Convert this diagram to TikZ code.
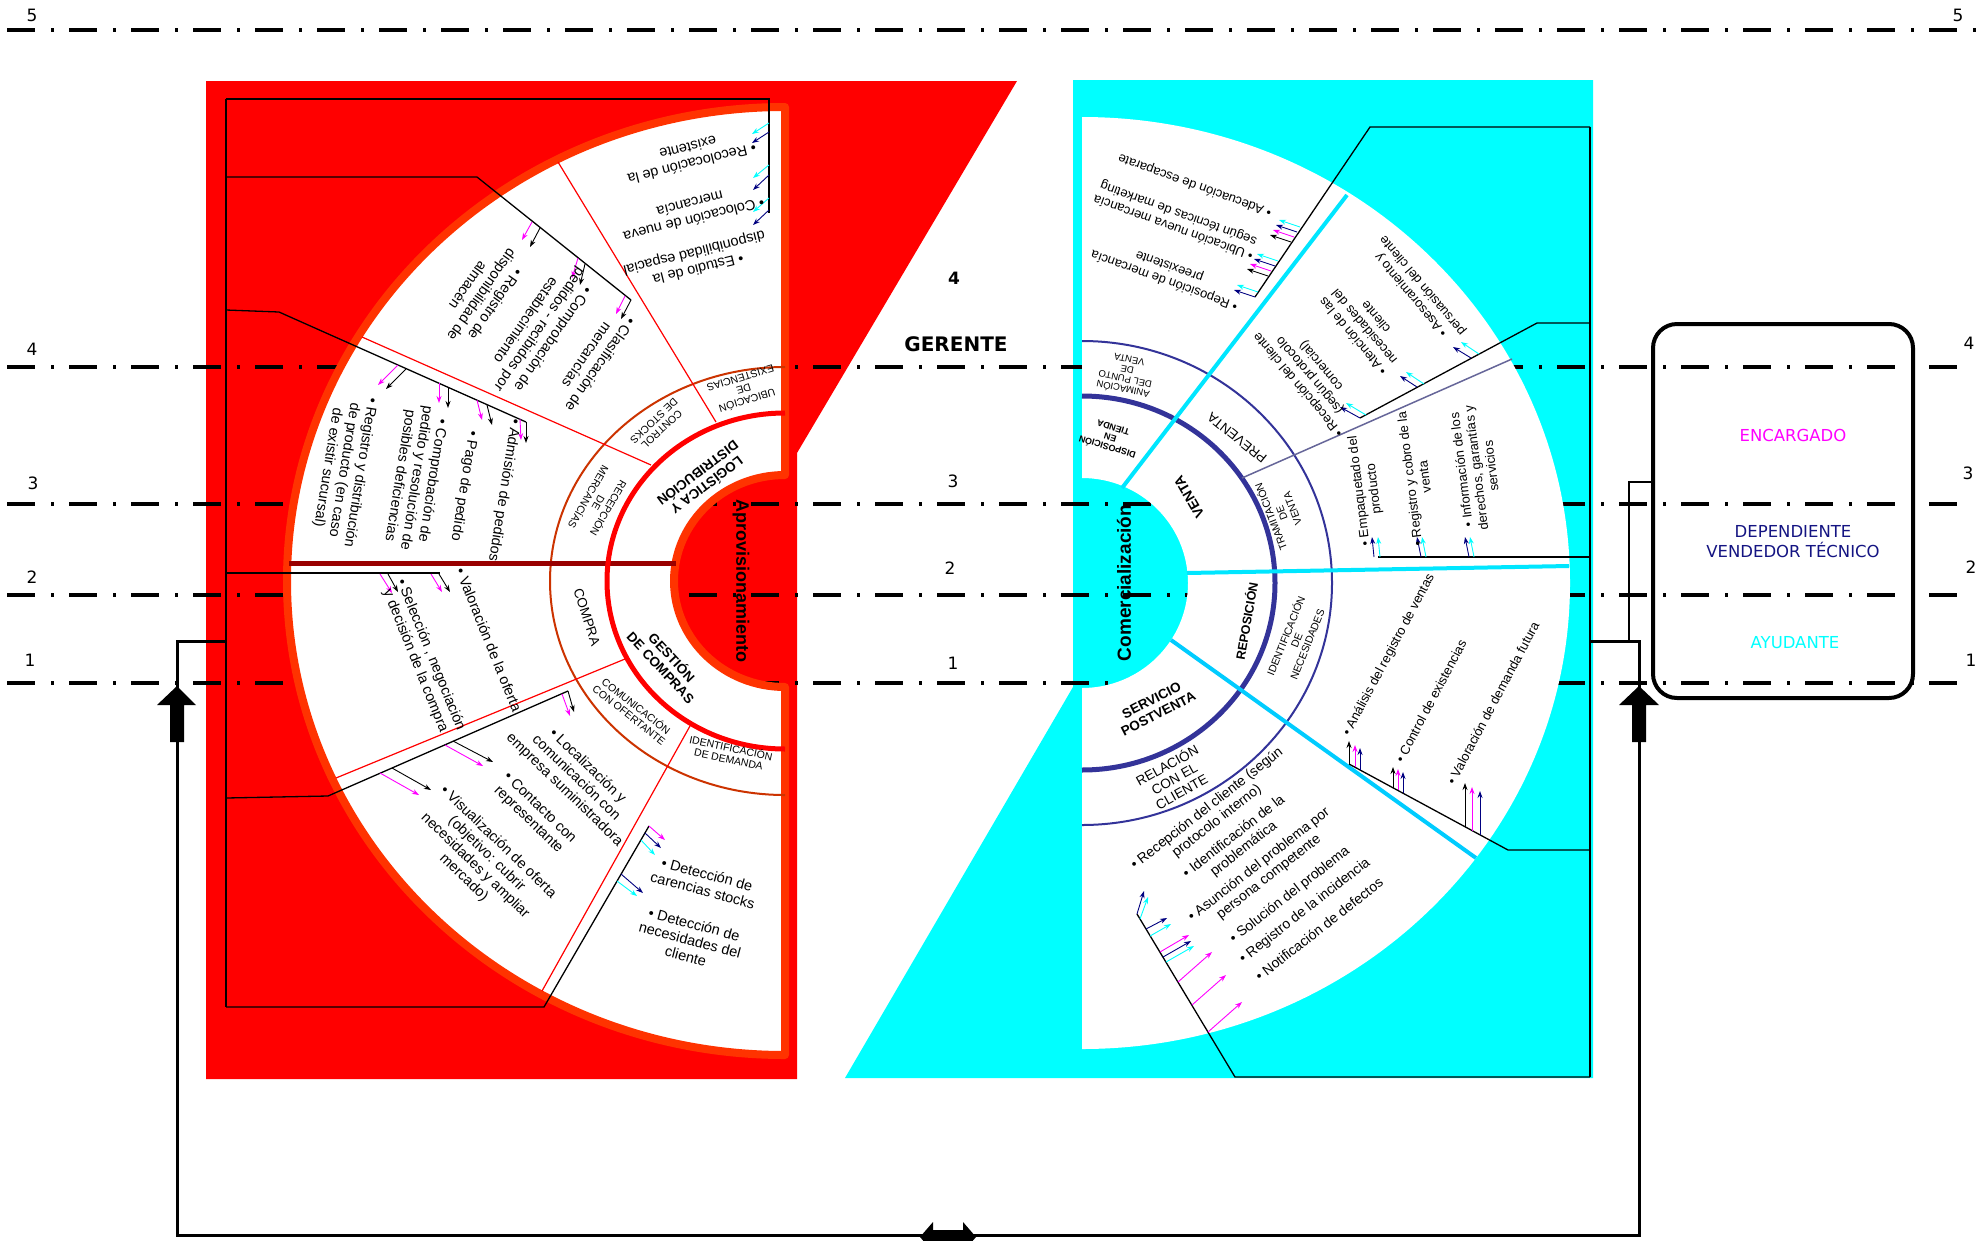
\documentclass[tikz,border=0pt]{standalone}
\usepackage{fontspec}
\setmainfont{Liberation Sans}
\newfontfamily\dvs{DejaVu Sans}
\usetikzlibrary{arrows.meta}
\definecolor{fanred}{RGB}{255,0,0}
\definecolor{orng}{RGB}{255,51,0}
\definecolor{brn}{RGB}{204,51,0}
\definecolor{dkred}{RGB}{153,0,0}
\definecolor{cyn}{RGB}{0,255,255}
\definecolor{nvy}{RGB}{0,0,128}
\definecolor{mag}{RGB}{255,0,255}
\definecolor{ringblue}{RGB}{51,51,153}
\definecolor{purp}{RGB}{102,102,153}
\definecolor{sky}{RGB}{0,204,255}
\definecolor{cyl}{RGB}{0,230,255}
\definecolor{boxnavy}{RGB}{20,20,130}
\newcommand\arw[3]{\draw[arwst,#1] (#2) -- (#3);}
\begin{document}
\begin{tikzpicture}[x=1pt,y=-1pt,
 lvl/.style={line width=4.5pt, dash pattern=on 28pt off 16pt on 3pt off 15pt},
 frm/.style={line width=1.3pt},
 arwst/.style={line width=0.9pt, -{Stealth[length=7pt,width=5pt]}},
 rt/.style={font=\fontsize{14.5}{16.5}\selectfont, align=center, inner sep=0pt},
 tx/.style={font=\fontsize{13}{15}\selectfont, align=center, inner sep=0pt},
 tb/.style={font=\fontsize{14}{16}\selectfont, align=center, inner sep=0pt},
 sm/.style={font=\fontsize{10.5}{11.5}\selectfont, align=center, inner sep=0pt},
 md/.style={font=\fontsize{13.5}{15}\selectfont, align=center, inner sep=0pt},
 bd/.style={font=\bfseries\fontsize{13.5}{15}\selectfont, align=center, inner sep=0pt},
 num/.style={font=\dvs\fontsize{17}{17}\selectfont, inner sep=0pt},
 boxt/.style={font=\dvs\fontsize{16.5}{20}\selectfont, align=center, inner sep=0pt},
]
\useasboundingbox (0,0) rectangle (1987,1240);
\fill[white] (0,0) rectangle (1987,1240);
% panels
\fill[fanred] (206,81) -- (1017,81) -- (797,453) -- (797,1079) -- (206,1079) -- cycle;
\fill[cyn] (1073,80) -- (1593,80) -- (1593,1078) -- (845,1078) -- (1073,687) -- cycle;
% level lines
\foreach \yy in {367,504,595,683} \draw[lvl] (7,\yy) -- (1972,\yy);
\draw[lvl] (7,30) -- (1982,30);
% red fan
\fill[white] (785,107) arc[start angle=90,end angle=270,x radius=498pt,y radius=474pt] -- (785,687) arc[start angle=270,end angle=90,x radius=111pt,y radius=106pt] -- cycle;
\draw[orng,line width=8pt,line join=round] (785,107) arc[start angle=90,end angle=270,x radius=498pt,y radius=474pt] -- (785,687) arc[start angle=270,end angle=90,x radius=111pt,y radius=106pt] -- cycle;
% cyan fan
\fill[white] (1082,117) arc[start angle=90,end angle=-90,x radius=488pt,y radius=466pt] -- (1082,688) arc[start angle=-90,end angle=90,x radius=106pt,y radius=105pt] -- cycle;
% red rings and dividers
\draw[brn,line width=2pt] (785,367) arc[start angle=90,end angle=270,x radius=235pt,y radius=214pt];
\draw[dkred,line width=5pt] (289,563) -- (676,563);
\draw[fanred,line width=1.2pt] (362,337) -- (651,465);
\draw[fanred,line width=1.2pt] (558,162) -- (716,422);
\draw[fanred,line width=1.2pt] (336,778) -- (625,659);
\draw[fanred,line width=1.2pt] (690,726) -- (542,991);
\draw[fanred,line width=5pt] (785,413) arc[start angle=90,end angle=270,x radius=178pt,y radius=168pt];
% cyan rings and dividers
\draw[ringblue,line width=2pt] (1082,341) arc[start angle=90,end angle=-90,x radius=250pt,y radius=242pt];
\draw[ringblue,line width=5pt] (1082,396) arc[start angle=90,end angle=-90,x radius=193pt,y radius=187pt];
\draw[purp,line width=1.5pt] (1242,478) -- (1512,359);
\draw[cyl,line width=4pt] (1122,488) -- (1347,195);
\draw[cyl,line width=4pt] (1187,573) -- (1569,566);
\draw[sky,line width=4pt] (1171,640) -- (1476,858);
% red frame
\draw[frm] (226,99) -- (226,1007);
\draw[frm] (226,99) -- (769,99) -- (769,213);
\draw[frm] (226,177) -- (477,177) -- (631,300);
\draw[frm] (226,310) -- (279,312) -- (526,422);
\draw[frm] (226,573) -- (440,573);
\draw[frm] (226,798) -- (328,796) -- (568,691);
\draw[frm] (226,1007) -- (544,1007) -- (649,826);
% red arrows
\arw{cyn}{769,123}{752,134}
\arw{nvy}{769,132}{752,143}
\arw{cyn}{769,165}{753,178}
\arw{nvy}{769,175}{753,190}
\arw{cyn}{769,198}{753,212}
\arw{nvy}{769,210}{753,225}
\arw{mag}{532,222}{522,240}
\arw{black}{540,228}{530,247}
\arw{mag}{578,258}{572,278}
\arw{black}{585,264}{580,285}
\arw{mag}{625,296}{616,314}
\arw{black}{631,300}{621,319}
\arw{mag}{398,365}{378,385}
\arw{black}{406,369}{386,389}
\arw{mag}{439,383}{439,403}
\arw{black}{448,387}{448,408}
\arw{mag}{477,400}{482,420}
\arw{black}{487,405}{492,425}
\arw{mag}{520,419}{521,440}
\arw{black}{526,422}{526,443}
\arw{mag}{380,574}{392,593}
\arw{black}{388,574}{398,592}
\arw{mag}{431,574}{442,592}
\arw{black}{439,574}{450,592}
\arw{mag}{562,694}{570,716}
\arw{black}{568,691}{574,712}
\arw{mag}{445,745}{483,766}
\arw{black}{453,741}{493,762}
\arw{mag}{380,773}{419,795}
\arw{black}{392,768}{431,790}
\arw{mag}{649,826}{665,840}
\arw{nvy}{645,833}{661,848}
\arw{cyn}{641,840}{655,855}
\arw{nvy}{621,874}{643,893}
\arw{cyn}{617,881}{637,896}
% cyan frame
\draw[frm] (1590,127) -- (1590,1077);
\draw[frm] (1590,127) -- (1370,127) -- (1255,297);
\draw[frm] (1590,323) -- (1537,323) -- (1360,418);
\draw[frm] (1590,557) -- (1378,557);
\draw[frm] (1590,850) -- (1508,850) -- (1349,764);
\draw[frm] (1590,1077) -- (1235,1077) -- (1137,914);
% cyan arrows
\arw{nvy}{1255,297}{1234,290}
\arw{cyn}{1258,292}{1237,285}
\arw{black}{1268,276}{1247,269}
\arw{mag}{1271,271}{1250,264}
\arw{nvy}{1275,266}{1254,259}
\arw{cyn}{1278,261}{1257,254}
\arw{black}{1291,242}{1270,235}
\arw{mag}{1294,237}{1273,230}
\arw{nvy}{1297,232}{1276,225}
\arw{cyn}{1300,227}{1279,220}
\arw{nvy}{1360,418}{1340,407}
\arw{cyn}{1366,415}{1346,403}
\arw{nvy}{1417,387}{1400,376}
\arw{cyn}{1424,384}{1406,372}
\arw{nvy}{1471,358}{1453,347}
\arw{cyn}{1479,354}{1461,342}
\arw{nvy}{1374,557}{1372,537}
\arw{cyn}{1380,557}{1378,537}
\arw{nvy}{1421,557}{1417,537}
\arw{cyn}{1426,557}{1422,537}
\arw{nvy}{1469,557}{1465,537}
\arw{cyn}{1474,557}{1470,537}
\arw{black}{1349,764}{1349,741}
\arw{mag}{1355,767}{1355,745}
\arw{nvy}{1360,770}{1360,748}
\arw{black}{1393,788}{1393,767}
\arw{mag}{1398,790}{1398,769}
\arw{nvy}{1403,793}{1403,772}
\arw{black}{1465,827}{1465,783}
\arw{mag}{1472,831}{1472,787}
\arw{nvy}{1480,835}{1480,791}
\arw{nvy}{1137,914}{1144,891}
\arw{cyn}{1140,919}{1148,897}
\arw{nvy}{1146,929}{1167,918}
\arw{cyn}{1150,936}{1171,924}
\arw{mag}{1160,952}{1189,935}
\arw{nvy}{1163,957}{1191,941}
\arw{cyn}{1166,962}{1194,946}
\arw{mag}{1178,982}{1212,952}
\arw{mag}{1192,1005}{1226,975}
\arw{mag}{1208,1032}{1242,1002}
% red fan texts
\node[rt,rotate=194] (a1) at (690,156) {• Recolocación de la\\existente};
\node[rt,rotate=194] (a2) at (692,212) {• Colocación de nueva\\mercancía};
\node[rt,rotate=194] (a3) at (696,260) {• Estudio de la\\disponibilidad espacial};
\node[rt,rotate=235] (b1) at (482,295) {• Registro de\\disponibilidad de\\almacén};
\node[rt,rotate=235] (b2) at (540,330) {• Comprobación de\\pedidos - recibidos por\\establecimiento};
\node[rt,rotate=235] (b3) at (594,360) {• Clasificación de\\mercancías};
\node[rt,rotate=261] (c1) at (504,490) {• Admisión de pedidos};
\node[rt,rotate=261] (c2) at (464,486) {• Pago de pedido};
\node[rt,rotate=261] (c3) at (416,478) {• Comprobación de\\pedido y resolución de\\posibles deficiencias};
\node[rt,rotate=261] (c4) at (344,470) {• Registro y distribución\\de producto (en caso\\de existir sucursal)};
\node[rt,rotate=-68] (d1) at (489,640) {• Valoración de la oferta};
\node[rt,rotate=-68] (d2) at (423,658) {• Selección , negociación\\y decisión de la compra};
\node[rt,rotate=-44] (e1) at (576,778) {• Localización y\\comunicación con\\empresa suministradora};
\node[rt,rotate=-44] (e2) at (534,814) {• Contacto con\\representante};
\node[rt,rotate=-44] (e3) at (481,860) {• Visualización de oferta\\(objetivo: cubrir\\necesidades y ampliar\\mercado)};
\node[rt,rotate=-15] (f1) at (705,882) {• Detección de\\carencias stocks};
\node[rt,rotate=-15] (f2) at (690,940) {• Detección de\\necesidades del\\cliente};
\node[sm,rotate=197] (g1) at (744,390) {UBICACIÓN\\DE\\EXISTENCIAS};
\node[sm,rotate=223] (g2) at (658,425) {CONTROL\\DE STOCKS};
\node[sm,rotate=240] (g3) at (599,503) {RECEPCIÓN\\DE\\MERCANCÍAS};
\node[md,rotate=-72] (g4) at (587,617) {COMPRA};
\node[sm,rotate=-38] (g5) at (633,710) {COMUNICACIÓN\\CON OFERTANTE};
\node[sm,rotate=-12] (g6) at (730,753) {IDENTIFICACIÓN\\DE DEMANDA};
\node[bd,rotate=217] (h1) at (703,480) {LOGÍSTICA Y\\DISTRIBUCIÓN};
\node[bd,rotate=-47] (h2) at (667,662) {GESTIÓN\\DE COMPRAS};
\node[font=\bfseries\fontsize{18}{18}\selectfont,inner sep=0pt,rotate=-90] (h3) at (741,581) {Aprovisionamiento};
% cyan fan texts
\node[tx,rotate=160] (p1) at (1195,185) {• Adecuación de escaparate};
\node[tx,rotate=160] (p2) at (1176,220) {• Ubicación nueva mercancía\\según técnicas de marketing};
\node[tx,rotate=160] (p3) at (1167,273) {• Reposición de mercancía\\preexistente};
\node[tx,rotate=130] (q1) at (1417,290) {• Asesoramiento y\\persuasión del cliente};
\node[tx,rotate=130] (q2) at (1364,327) {• Atención de las\\necesidades del\\cliente};
\node[tx,rotate=130] (q3) at (1310,375) {• Recepción del cliente\\(según protocolo\\comercial)};
\node[tx,rotate=97] (r1) at (1367,490) {• Empaquetado del\\producto};
\node[tx,rotate=97] (r2) at (1417,478) {• Registro y cobro de la\\venta};
\node[tx,rotate=97] (r3) at (1476,468) {• Información de los\\derechos, garantías y\\servicios};
\node[tx,rotate=62] (s1) at (1389,655) {• Análisis del registro de ventas};
\node[tx,rotate=62] (s2) at (1431,701) {• Control de existencias};
\node[tx,rotate=62] (s3) at (1493,703) {• Valoración de demanda futura};
\node[tb,rotate=38] (u1) at (1212,815) {• Recepción del cliente (según\\protocolo interno)};
\node[tb,rotate=38] (u2) at (1239,843) {• Identificación de la\\problemática};
\node[tb,rotate=38] (u3) at (1264,871) {• Asunción del problema por\\persona competente};
\node[tb,rotate=38] (u4) at (1290,895) {• Solución del problema};
\node[tb,rotate=38] (u5) at (1305,911) {• Registro de la incidencia};
\node[tb,rotate=38] (u6) at (1319,929) {• Notificación de defectos};
\node[font=\bfseries\fontsize{19}{19}\selectfont,inner sep=0pt,rotate=90] (v1) at (1124,583) {Comercialización};
\node[font=\bfseries\fontsize{9}{10}\selectfont,align=center,inner sep=0pt,rotate=163] (v2) at (1110,438) {DISPOSICIÓN\\EN\\TIENDA};
\node[font=\bfseries\fontsize{14}{14}\selectfont,inner sep=0pt,rotate=120] (v3) at (1189,497) {VENTA};
\node[font=\bfseries\fontsize{12.5}{14}\selectfont,inner sep=0pt,rotate=80] (v4) at (1246,621) {REPOSICIÓN};
\node[bd,rotate=27] (v5) at (1155,707) {SERVICIO\\POSTVENTA};
\node[font=\fontsize{9.5}{10}\selectfont,align=center,inner sep=0pt,rotate=168] (w1) at (1126,375) {ANIMACIÓN\\DEL PUNTO\\DE\\VENTA};
\node[md,rotate=141] (w2) at (1237,438) {PREVENTA};
\node[sm,rotate=111] (w3) at (1281,513) {TRAMITACIÓN\\DE\\VENTA};
\node[sm,rotate=68] (w4) at (1296,640) {IDENTIFICACIÓN\\DE\\NECESIDADES};
\node[md,rotate=29] (w5) at (1174,778) {RELACIÓN\\CON EL\\CLIENTE};
% feedback loop
\coordinate (lf) at (226,641);
\coordinate (rf) at (1590,641);
\draw[line width=3pt] (lf) -- (177,641) -- (177,690);
\draw[line width=3pt] (177,740) -- (177,1235) -- (1639,1235) -- (1639,740);
\draw[line width=3pt] (rf) -- (1639,641) -- (1639,690);
\fill (177,686) -- (196,705) -- (184,705) -- (184,742) -- (170,742) -- (170,705) -- (157,705) -- cycle;
\fill (1639,686) -- (1659,705) -- (1646,705) -- (1646,742) -- (1632,742) -- (1632,705) -- (1619,705) -- cycle;
\fill (920,1237) -- (933,1222) -- (933,1230) -- (963,1230) -- (963,1222) -- (976,1237) -- (963,1252) -- (963,1244) -- (933,1244) -- (933,1252) -- cycle;
% roles box
\node[draw,line width=4pt,rounded corners=24pt,minimum width=260pt,minimum height=374pt,inner sep=0pt] (box) at (1783,511) {};
\draw[line width=1.5pt] (box.west |- 0,482) -- (1629,482) -- (1629,641);
\node[boxt,text=mag] (enc) at (1793,435) {ENCARGADO};
\node[boxt,text=boxnavy] (dep) at (1793,542) {DEPENDIENTE\\VENDEDOR TÉCNICO};
\node[boxt,text=cyn] (ayu) at (1795,643) {AYUDANTE};
% level labels
\node[num] (n5l) at (32,15) {5};
\node[num] (n5r) at (1958,15) {5};
\node[num] (n4l) at (32,349) {4};
\node[num] (n3l) at (33,483) {3};
\node[num] (n2l) at (32,577) {2};
\node[num] (n1l) at (30,660) {1};
\node[num] (n4r) at (1969,343) {4};
\node[num] (n3r) at (1968,473) {3};
\node[num] (n2r) at (1971,567) {2};
\node[num] (n1r) at (1971,660) {1};
\node[num,font=\dvs\bfseries\fontsize{17}{17}\selectfont] (n4m) at (954,278) {4};
\node[font=\dvs\bfseries\fontsize{20}{20}\selectfont,inner sep=0pt] (ger) at (956,344) {GERENTE};
\node[num] (n3m) at (953,481) {3};
\node[num] (n2m) at (950,568) {2};
\node[num] (n1m) at (953,663) {1};
\end{tikzpicture}
\end{document}
